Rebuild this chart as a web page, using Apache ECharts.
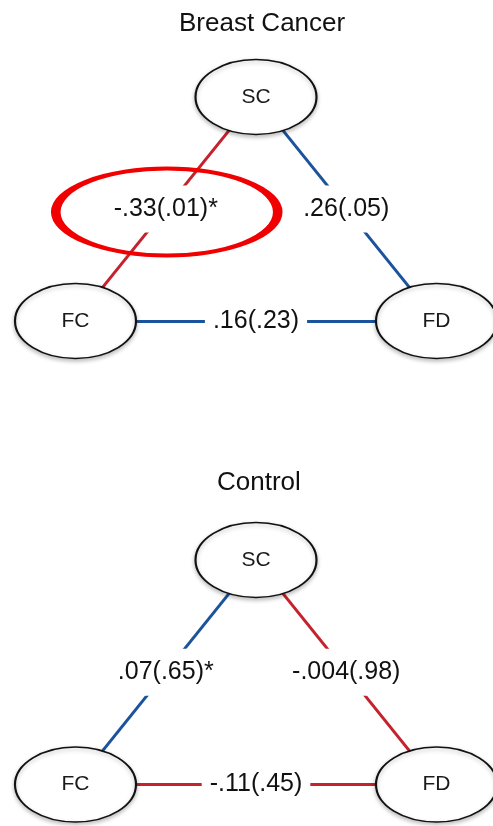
<!DOCTYPE html>
<html>
<head>
<meta charset="utf-8">
<script src="https://cdn.jsdelivr.net/npm/echarts@6/dist/echarts.min.js"></script>
<style>
html,body{margin:0;padding:0;background:#fff;}
#chart{width:493px;height:826px;}
</style>
</head>
<body>
<div id="chart"></div>
<script>
// ---- data ----
const panelTitles = ['Breast Cancer', 'Control'];
const nodeNames = ['SC', 'FC', 'FD'];
const bcNodeX = [256, 75.5, 436.5];
const bcNodeY = [97, 321, 321];
const ctNodeX = [256, 75.5, 436.5];
const ctNodeY = [560, 784.5, 784.5];
const edgeSource = ['SC', 'SC', 'FC'];
const edgeTarget = ['FC', 'FD', 'FD'];
const bcCoef = [-0.33, 0.26, 0.16];
const bcEdgeLabels = ['-.33(.01)*', '.26(.05)', '.16(.23)'];
const ctCoef = [0.07, -0.004, -0.11];
const ctEdgeLabels = ['.07(.65)*', '-.004(.98)', '-.11(.45)'];
const highlightPanel = 0;      // Breast Cancer
const highlightEdge = 0;       // SC - FC

// ---- styling ----
const RED = '#c4222c';
const BLUE = '#1b539c';
const FONT = 'Liberation Sans, Arial, sans-serif';
const ellipsePath = 'path://M0,40 A60,40 0 1 1 120,40 A60,40 0 1 1 0,40 Z';

const panels = [
  {x: bcNodeX, y: bcNodeY, coef: bcCoef, labels: bcEdgeLabels},
  {x: ctNodeX, y: ctNodeY, coef: ctCoef, labels: ctEdgeLabels}
];

const series = [];
const labelData = [];
let highlightPos = null;

panels.forEach(function (p, pi) {
  const nodes = nodeNames.map(function (n, i) {
    return {name: n, value: [p.x[i], p.y[i]]};
  });
  const links = edgeSource.map(function (s, i) {
    return {
      source: s, target: edgeTarget[i],
      lineStyle: {color: p.coef[i] < 0 ? RED : BLUE}
    };
  });
  series.push({
    type: 'graph',
    layout: 'none',
    coordinateSystem: 'cartesian2d',
    z: 2,
    silent: true,
    symbol: ellipsePath,
    symbolSize: [121, 75],
    itemStyle: {
      color: '#fff', borderColor: '#111', borderWidth: 1.7, opacity: 1,
      shadowBlur: 4, shadowColor: 'rgba(0,0,0,0.25)', shadowOffsetY: 2
    },
    label: {show: true, position: 'inside', fontSize: 21, color: '#1a1a1a', fontFamily: FONT},
    lineStyle: {width: 2.8, opacity: 1, curveness: 0},
    data: nodes,
    links: links
  });
  edgeSource.forEach(function (s, i) {
    const a = nodeNames.indexOf(s), b = nodeNames.indexOf(edgeTarget[i]);
    const mx = (p.x[a] + p.x[b]) / 2, my = (p.y[a] + p.y[b]) / 2;
    labelData.push({value: [mx, my], name: p.labels[i]});
    if (pi === highlightPanel && i === highlightEdge) highlightPos = [mx + 1, my + 3];
  });
});

series.push({
  type: 'scatter',
  z: 3,
  silent: true,
  symbolSize: 1,
  itemStyle: {color: 'rgba(0,0,0,0)', opacity: 1},
  label: {
    show: true, position: 'inside',
    formatter: function (d) { return d.name; },
    fontSize: 25, color: '#111', opacity: 1,
    fontFamily: FONT,
    backgroundColor: '#fff', padding: [11, 8]
  },
  data: labelData
});

series.push({
  type: 'scatter',
  z: 4,
  silent: true,
  symbol: ellipsePath,
  symbolSize: [222, 87],
  itemStyle: {color: 'rgba(0,0,0,0)', borderColor: '#f00000', borderWidth: 6, opacity: 1},
  data: [highlightPos]
});

const chart = echarts.init(document.getElementById('chart'), null, {renderer: 'canvas'});
chart.setOption({
  animation: false,
  backgroundColor: '#fff',
  title: [
    {text: panelTitles[0], left: 174, top: 6,
     textStyle: {fontSize: 26, fontWeight: 'normal', color: '#111', fontFamily: FONT}},
    {text: panelTitles[1], left: 212, top: 465,
     textStyle: {fontSize: 26, fontWeight: 'normal', color: '#111', fontFamily: FONT}}
  ],
  grid: {left: 0, top: 0, right: 0, bottom: 0},
  xAxis: {type: 'value', min: 0, max: 493, show: false},
  yAxis: {type: 'value', min: 0, max: 826, inverse: true, show: false},
  series: series
});
</script>
</body>
</html>
